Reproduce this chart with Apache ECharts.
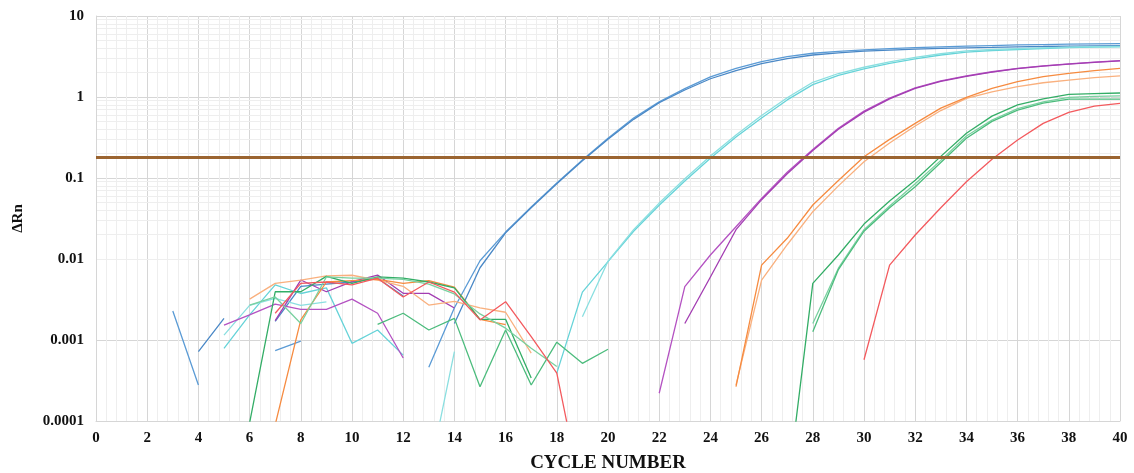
<!DOCTYPE html>
<html>
<head>
<meta charset="utf-8">
<script src="https://cdn.jsdelivr.net/npm/echarts@6/dist/echarts.min.js"></script>
<style>
  html, body { margin: 0; padding: 0; background: #fff; }
  #chart { width: 1134px; height: 473px; }
</style>
</head>
<body>
<div id="chart"></div>
<script>
const n = null;

// cycle numbers 1..40
const cycles = [1,2,3,4,5,6,7,8,9,10,11,12,13,14,15,16,17,18,19,20,
                21,22,23,24,25,26,27,28,29,30,31,32,33,34,35,36,37,38,39,40];

const yTickLabels = ['0.0001', '0.001', '0.01', '0.1', '1', '10'];
const threshold = 0.18;

// delta Rn per well, index 0 = cycle 1 (null = not plotted, <= 0)
const blue1 = [n,n,0.00228,0.000278,n,n,0.00074,0.00097,n,n,n,n,0.00046,0.0025,0.0095,0.0215,0.044,0.087,0.167,0.31,
  0.55,0.87,1.27,1.77,2.25,2.73,3.15,3.47,3.65,3.82,3.95,4.06,4.16,4.25,4.32,4.39,4.44,4.49,4.52,4.55];
const blue2 = [n,n,n,0.000718,0.00185,n,0.0017,0.0046,0.0049,0.0052,0.0058,0.0035,n,0.0016,0.0078,0.021,0.043,0.085,0.163,0.30,
  0.53,0.85,1.22,1.68,2.12,2.58,2.98,3.30,3.50,3.68,3.80,3.90,3.98,4.05,4.10,4.16,4.20,4.25,4.28,4.32];
const cyan1 = [n,n,n,n,0.00079,0.00204,0.0048,0.00375,0.0044,0.00091,0.00133,0.00065,n,n,n,n,n,0.00039,0.0039,0.0093,
  0.022,0.046,0.092,0.175,0.32,0.55,0.92,1.42,1.85,2.22,2.60,2.95,3.30,3.58,3.75,3.86,3.97,4.06,4.12,4.16];
const cyan2 = [n,n,n,n,0.00115,0.00268,0.00327,0.00268,0.00295,n,n,n,0.000021,0.00072,n,n,n,n,0.00194,0.0094,
  0.023,0.049,0.098,0.187,0.34,0.59,0.98,1.52,1.95,2.33,2.72,3.08,3.42,3.70,3.86,3.96,4.05,4.13,4.18,4.22];
const purple1 = [n,n,n,n,0.00153,0.00204,0.00278,0.00239,0.00239,0.0032,0.00214,0.0006,n,n,n,n,n,n,n,n,
  n,0.00022,0.00455,0.0112,0.025,0.056,0.118,0.225,0.41,0.67,0.97,1.30,1.58,1.82,2.05,2.26,2.42,2.56,2.69,2.82];
const purple2 = [n,n,n,n,n,n,0.00173,0.0055,0.00394,0.00525,0.00634,0.00377,0.00377,0.00248,n,n,n,n,n,n,
  n,n,0.0016,0.006,0.023,0.054,0.113,0.218,0.40,0.65,0.95,1.28,1.56,1.80,2.03,2.24,2.40,2.54,2.67,2.79];
const orange1 = [n,n,n,n,n,0.0032,0.005,0.0055,0.0062,0.0063,0.0055,0.0046,0.0027,0.003,0.0025,0.0022,0.00069,n,n,n,
  n,n,n,n,0.00028,0.0055,0.015,0.0384,0.080,0.159,0.27,0.438,0.68,0.96,1.16,1.34,1.50,1.62,1.73,1.82];
const orange2 = [n,n,n,n,n,n,0.00009,0.00177,0.0052,0.0054,0.0056,0.005,0.0054,0.0045,0.0018,0.00155,n,n,n,n,
  n,n,n,n,0.000265,0.0084,0.018,0.0464,0.093,0.183,0.30,0.473,0.73,0.99,1.28,1.55,1.78,1.96,2.12,2.26];
const green1 = [n,n,n,n,n,0.000095,0.00394,0.00394,0.0061,0.005,0.006,0.0058,0.0052,0.0044,0.0018,0.0018,0.00034,n,n,n,
  n,n,n,n,n,n,0.000013,0.005,0.0112,0.027,0.052,0.094,0.185,0.357,0.58,0.80,0.95,1.08,1.10,1.12];
const green2 = [n,n,n,n,n,0.0027,0.0034,0.0016,0.006,0.0058,0.0058,0.0056,0.0049,0.0037,0.0021,0.0014,0.00079,0.00047,n,n,
  n,n,n,n,n,n,n,0.0016,0.0077,0.023,0.045,0.085,0.165,0.33,0.52,0.72,0.87,0.99,1.02,1.03];
const green3 = [n,n,n,n,n,n,n,n,n,n,0.00156,0.00214,0.00133,0.00185,0.000265,0.00133,0.000278,0.00094,0.000515,0.00077,
  n,n,n,n,n,n,n,0.00126,0.0074,0.022,0.043,0.078,0.155,0.309,0.50,0.69,0.84,0.94,0.94,0.94];
const red1 = [n,n,n,n,n,n,0.00214,0.005,0.0052,0.0048,0.0058,0.0034,0.0052,0.0039,0.00177,0.00297,0.0011,0.00039,0.000011,n,
  n,n,n,n,n,n,n,n,n,0.00057,0.0084,0.0198,0.043,0.09,0.17,0.294,0.473,0.647,0.77,0.835];

const wells = [
  { name: 'Blue 1', values: blue1, color: '#5b9bd5' },
  { name: 'Blue 2', values: blue2, color: '#4a88c6' },
  { name: 'Cyan 1', values: cyan1, color: '#66d3d8' },
  { name: 'Cyan 2', values: cyan2, color: '#8adfe0' },
  { name: 'Purple 1', values: purple1, color: '#b452c2' },
  { name: 'Purple 2', values: purple2, color: '#a33db2' },
  { name: 'Orange 1', values: orange1, color: '#f9b07e' },
  { name: 'Orange 2', values: orange2, color: '#f68b40' },
  { name: 'Green 1', values: green1, color: '#33ad66' },
  { name: 'Green 2', values: green2, color: '#79d1a0' },
  { name: 'Green 3', values: green3, color: '#4cbc7d' },
  { name: 'Red', values: red1, color: '#f35a5e' }
];

// minor log grid lines (2..9 in each decade)
const minorY = [];
[0.0001, 0.001, 0.01, 0.1, 1].forEach(d => {
  for (let k = 2; k <= 9; k++) minorY.push(+(k * d).toPrecision(3));
});

const serif = '"Liberation Serif", "Times New Roman", serif';

const series = wells.map(w => ({
  name: w.name,
  type: 'line',
  data: cycles.map((c, i) => [c, w.values[i] === null ? '-' : w.values[i]]),
  showSymbol: false,
  symbol: 'none',
  connectNulls: false,
  lineStyle: { color: w.color, width: 1.3 },
  itemStyle: { color: w.color },
  silent: true,
  z: 3
}));

series.unshift({
  name: 'minor grid',
  type: 'line',
  data: [],
  silent: true,
  z: 0,
  markLine: {
    silent: true,
    z: 0,
    symbol: 'none',
    animation: false,
    label: { show: false },
    lineStyle: { color: '#eeeeee', width: 1, type: 'solid' },
    data: minorY.map(v => ({ yAxis: v }))
  }
});

series.push({
  name: 'threshold',
  type: 'line',
  data: [],
  silent: true,
  z: 5,
  markLine: {
    silent: true,
    z: 6,
    symbol: 'none',
    animation: false,
    label: { show: false },
    lineStyle: { color: '#9b6430', width: 3, type: 'solid' },
    data: [{ yAxis: threshold }]
  }
});

const chart = echarts.init(document.getElementById('chart'), null, { renderer: 'canvas' });
chart.setOption({
  animation: false,
  backgroundColor: '#ffffff',
  grid: { left: 96, right: 14, top: 16, bottom: 52, containLabel: false, outerBoundsMode: 'none' },
  xAxis: {
    type: 'value',
    min: 0,
    max: 40,
    interval: 2,
    name: 'CYCLE NUMBER',
    nameLocation: 'middle',
    nameGap: 33,
    nameTextStyle: { fontFamily: serif, fontWeight: 'bold', fontSize: 19, color: '#111' },
    axisLine: { show: true, lineStyle: { color: '#d6d6d6' } },
    axisTick: { show: false },
    axisLabel: { fontFamily: serif, fontWeight: 'bold', fontSize: 15, color: '#111', margin: 10 },
    splitLine: { show: true, lineStyle: { color: '#d6d6d6', width: 1 } },
    minorTick: { show: false, splitNumber: 5 },
    minorSplitLine: { show: true, lineStyle: { color: '#eeeeee', width: 1 } }
  },
  yAxis: {
    type: 'log',
    logBase: 10,
    min: 0.0001,
    max: 10,
    name: 'ΔRn',
    nameLocation: 'middle',
    nameRotate: 90,
    nameGap: 70,
    nameTextStyle: { fontFamily: serif, fontWeight: 'bold', fontSize: 15, color: '#111' },
    axisLine: { show: true, lineStyle: { color: '#d6d6d6' } },
    axisTick: { show: false },
    axisLabel: {
      fontFamily: serif, fontWeight: 'bold', fontSize: 15, color: '#111', margin: 12,
      formatter: v => yTickLabels[Math.round(Math.log10(v)) + 4]
    },
    splitLine: { show: true, lineStyle: { color: '#d6d6d6', width: 1 } }
  },
  series: series
});
</script>
</body>
</html>
